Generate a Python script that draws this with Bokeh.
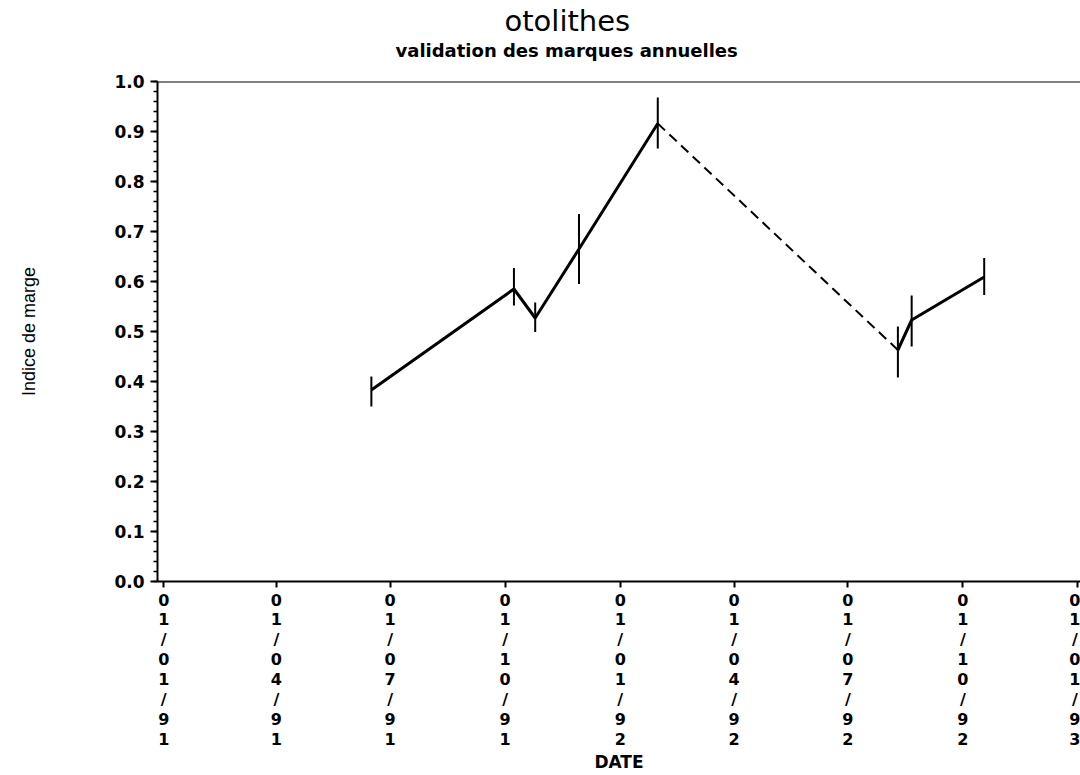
import pandas as pd
from bokeh.plotting import figure
from bokeh.models import FixedTicker, Span, Title, Range1d
from bokeh.embed import file_html
from bokeh.resources import INLINE

# ---- data ----
dates = ["1991-06-16", "1991-10-08", "1991-10-25", "1991-11-29",
         "1992-01-31", "1992-08-10", "1992-08-21", "1992-10-18"]
indice = [0.383, 0.585, 0.527, 0.665, 0.916, 0.463, 0.523, 0.609]
err_low = [0.350, 0.552, 0.499, 0.595, 0.866, 0.408, 0.470, 0.573]
err_high = [0.410, 0.627, 0.558, 0.735, 0.968, 0.510, 0.572, 0.647]
tick_dates = ["1991-01-01", "1991-04-01", "1991-07-01", "1991-10-01",
              "1992-01-01", "1992-04-01", "1992-07-01", "1992-10-01", "1993-01-01"]
tick_labels = ["01/01/91", "01/04/91", "01/07/91", "01/10/91", "01/01/92",
               "01/04/92", "01/07/92", "01/10/92", "01/01/93"]
y_ticks = [0.0, 0.1, 0.2, 0.3, 0.4, 0.5, 0.6, 0.7, 0.8, 0.9, 1.0]
title_text = "otolithes"
subtitle_text = "validation des marques annuelles"

origin = pd.Timestamp("1991-01-01")
def to_days(ds):
    return [(pd.Timestamp(d) - origin).days for d in ds]

x = to_days(dates)
tx = to_days(tick_dates)

FONT = "DejaVu Sans"

p = figure(width=1080, height=775, output_backend="svg", toolbar_location=None,
           x_range=Range1d(-5, 733), y_range=Range1d(0, 1.0))
p.min_border_left = 157
p.min_border_right = 0
p.min_border_top = 81
p.min_border_bottom = 190
p.background_fill_color = "white"
p.border_fill_color = "white"
p.outline_line_color = None
p.grid.grid_line_color = None

# titles: spacer, subtitle, main title (stacked outward from the frame)
p.add_layout(Title(text=" ", text_font_size="1px", standoff=18), "above")
p.add_layout(Title(text=subtitle_text, align="left", offset=238,
                   text_font=FONT, text_font_style="bold", text_font_size="18px",
                   text_color="black", standoff=0), "above")
p.add_layout(Title(text=title_text, align="left", offset=347, text_font=FONT,
                   text_font_style="normal", text_font_size="29px",
                   text_color="black", standoff=0), "above")

# top border line
p.add_layout(Span(location=1.0, dimension="width", line_color="black", line_width=2))

# y axis
ya = p.yaxis[0]
ya.ticker = FixedTicker(ticks=y_ticks,
                        minor_ticks=[i / 50 for i in range(51)])
ya.major_label_overrides = {t: f"{t:.1f}" for t in y_ticks}
ya.major_label_text_font = FONT
ya.major_label_text_font_style = "bold"
ya.major_label_text_font_size = "17px"
ya.major_label_text_color = "black"
ya.major_label_standoff = 6
ya.axis_line_width = 2
ya.axis_line_color = "black"
ya.major_tick_out = 7
ya.major_tick_in = 0
ya.major_tick_line_width = 2
ya.minor_tick_out = 4
ya.minor_tick_in = 0
ya.minor_tick_line_width = 1.5
ya.axis_label = "Indice de marge"
ya.axis_label_text_font = "Liberation Sans"
ya.axis_label_text_font_style = "normal"
ya.axis_label_text_font_size = "18px"
ya.axis_label_text_color = "black"
ya.axis_label_standoff = 72

# x axis
xa = p.xaxis[0]
xa.ticker = FixedTicker(ticks=tx, minor_ticks=[])
xa.major_label_overrides = {t: "\n".join(lbl) for t, lbl in zip(tx, tick_labels)}
xa.major_label_text_font = FONT
xa.major_label_text_font_style = "bold"
xa.major_label_text_font_size = "16px"
xa.major_label_text_line_height = 1.05
xa.major_label_text_color = "black"
xa.major_label_standoff = 3
xa.axis_line_width = 2
xa.axis_line_color = "black"
xa.major_tick_out = 6
xa.major_tick_in = 0
xa.major_tick_line_width = 2
xa.minor_tick_line_color = None
xa.axis_label = "DATE"
xa.axis_label_text_font = FONT
xa.axis_label_text_font_style = "bold"
xa.axis_label_text_font_size = "17px"
xa.axis_label_text_color = "black"
xa.axis_label_standoff = 0

# lines
p.line(x[0:5], indice[0:5], line_color="black", line_width=3)
p.line(x[4:6], indice[4:6], line_color="black", line_width=2, line_dash="10 6")
p.line(x[5:8], indice[5:8], line_color="black", line_width=3)

# error bars
p.segment(x0=x, y0=err_low, x1=x, y1=err_high, line_color="black", line_width=2)

open("out.html", "w").write(file_html(p, INLINE))
